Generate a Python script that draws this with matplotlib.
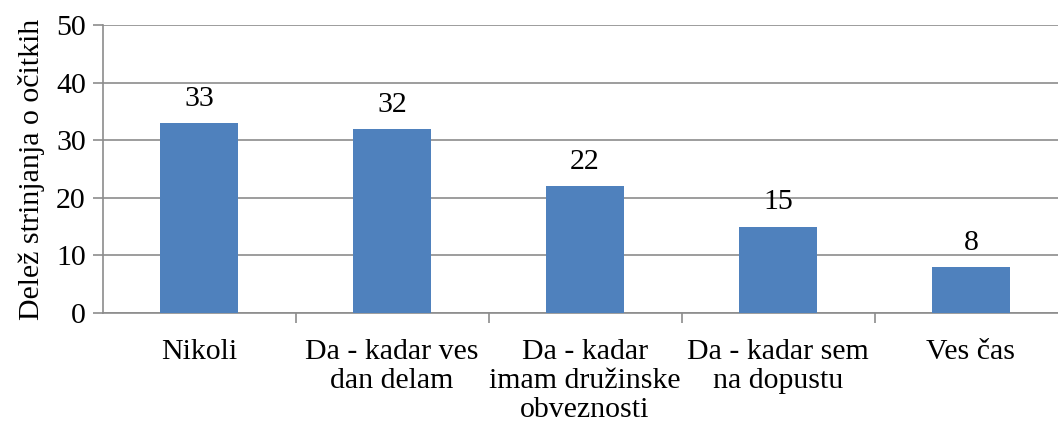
import matplotlib
matplotlib.use("Agg")
import matplotlib.pyplot as plt

categories = ["Nikoli", "Da - kadar ves\ndan delam", "Da - kadar\nimam družinske\nobveznosti",
              "Da - kadar sem\nna dopustu", "Ves čas"]
values = [33, 32, 22, 15, 8]
yticks = [0, 10, 20, 30, 40, 50]
ylabel = "Delež strinjanja o očitkih"

plt.rcParams['font.family'] = ['Liberation Serif', 'DejaVu Serif']
FS = 21.5

fig = plt.figure(figsize=(10.58, 4.25), dpi=100)
W, H = 1058, 425
left, right = 102.5, 1067.5
top, bottom = 25, 313
ax = fig.add_axes([left / W, (H - bottom) / H, (right - left) / W, (bottom - top) / H])

x = list(range(len(categories)))
bars = ax.bar(x, values, width=0.40, color="#4F81BD", zorder=3)
ax.set_xlim(-0.5, len(categories) - 0.5)
ax.set_ylim(0, 50)
ax.set_yticks(yticks)
ax.yaxis.grid(True, color="#8C8C8C", linewidth=1.2, zorder=0)

for xi, v in zip(x, values):
    ax.annotate(str(v), (xi, v), xytext=(0, 8), textcoords="offset points",
                ha="center", va="bottom", fontsize=FS)

ax.set_xticks([i - 0.5 for i in range(1, len(categories))], minor=False)
ax.set_xticklabels([])
ax.set_xticks(x, minor=True)
ax.set_xticklabels(categories, minor=True, fontsize=FS, linespacing=1.13)
ax.tick_params(axis="x", which="minor", length=0, pad=19)
ax.tick_params(axis="x", which="major", length=7, color="#8C8C8C", width=1.2)
ax.tick_params(axis="y", length=7, color="#8C8C8C", width=1.2, labelsize=FS, pad=5)

for s in ["top", "right"]:
    ax.spines[s].set_visible(False)
for s in ["left", "bottom"]:
    ax.spines[s].set_color("#8C8C8C")
    ax.spines[s].set_linewidth(1.2)

ax.set_ylabel(ylabel, fontsize=FS, labelpad=8)

fig.savefig("out.png", dpi=100)
